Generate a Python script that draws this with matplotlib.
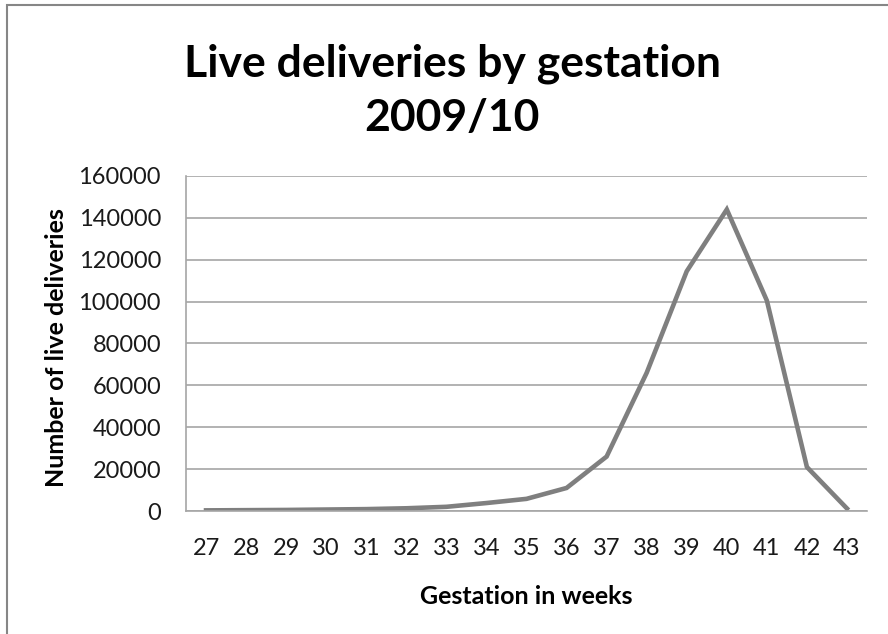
import matplotlib
matplotlib.use("Agg")
import matplotlib.pyplot as plt
from matplotlib.patches import Rectangle

weeks = [27, 28, 29, 30, 31, 32, 33, 34, 35, 36, 37, 38, 39, 40, 41, 42, 43]
deliveries = [300, 400, 500, 700, 900, 1300, 2000, 3800, 5800, 11000,
              26000, 66000, 114500, 144000, 100500, 21000, 1200]
y_ticks = [0, 20000, 40000, 60000, 80000, 100000, 120000, 140000, 160000]

plt.rcParams['font.family'] = ['Lato', 'DejaVu Sans']

W, H = 888, 634
fig = plt.figure(figsize=(W / 100, H / 100), dpi=100)
fig.patch.set_facecolor('white')

# outer frame (left and top visible)
fig.add_artist(Rectangle((7 / W, -0.05), 1.2, (H - 5) / H + 0.05, transform=fig.transFigure,
                         fill=False, edgecolor='#868686', linewidth=1.5))

ax = fig.add_axes([186 / W, 1 - 511 / H, (867 - 186) / W, (511 - 176) / H])
x = list(range(len(weeks)))
ax.plot(x, deliveries, color='#7f7f7f', linewidth=3.3, solid_joinstyle='miter')
ax.set_xlim(-0.5, len(weeks) - 0.5)
ax.set_ylim(0, 160000)
ax.set_yticks(y_ticks)
ax.set_yticklabels([str(v) for v in y_ticks], fontsize=17, color='#1a1a1a')
ax.set_xticks(x)
ax.set_xticklabels([str(w) for w in weeks], fontsize=17, color='#1a1a1a')
ax.tick_params(axis='y', length=0, pad=18)
ax.tick_params(axis='x', length=0, pad=19.5)
ax.grid(axis='y', color='#a6a6a6', linewidth=1.2)
ax.set_axisbelow(True)
for s in ['top', 'right']:
    ax.spines[s].set_visible(False)
for s in ['left', 'bottom']:
    ax.spines[s].set_color('#a6a6a6')
    ax.spines[s].set_linewidth(1.2)

fig.text(452 / W, 1 - 64 / H, 'Live deliveries by gestation',
         ha='center', va='center', fontsize=32, fontweight='bold')
fig.text(452 / W, 1 - 118 / H, '2009/10', ha='center', va='center', fontsize=32, fontweight='bold')
fig.text(526 / W, 1 - 596 / H, 'Gestation in weeks', ha='center', va='center',
         fontsize=18, fontweight='bold')
fig.text(57 / W, 1 - 348 / H, 'Number of live deliveries', ha='center', va='center',
         rotation=90, fontsize=18, fontweight='bold')

fig.savefig('out.png', dpi=100, facecolor='white')
